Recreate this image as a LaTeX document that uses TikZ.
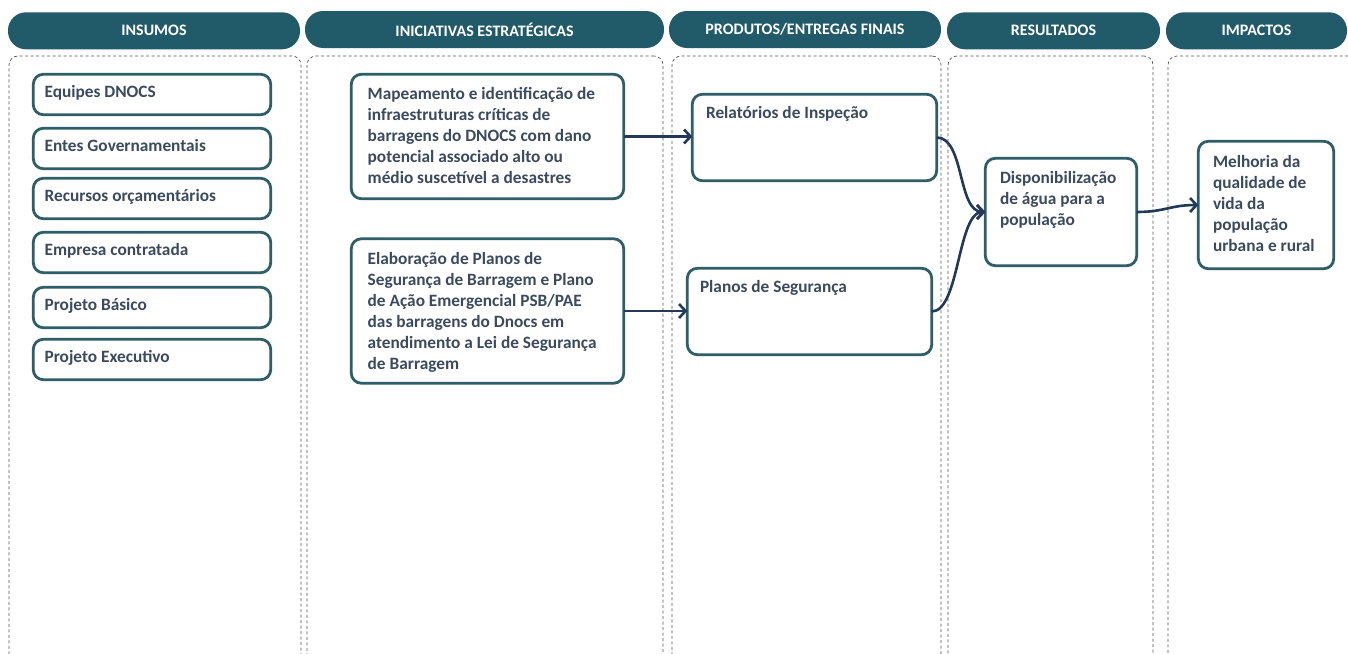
\documentclass[tikz,border=0pt]{standalone}
\usepackage{fontspec}
\setmainfont{Carlito}
\usetikzlibrary{arrows.meta}
\definecolor{headc}{HTML}{215A69}
\definecolor{boxc}{HTML}{2E5E68}
\definecolor{txtc}{HTML}{3B4A5E}
\definecolor{arrc}{HTML}{22395A}
\definecolor{dashc}{HTML}{555555}
\newcommand{\boxtxt}[3]{\parbox[t][#1][t]{#2}{\raggedright\strut #3}}
\tikzset{
  hdr/.style={fill=headc, rounded corners=18pt, text=white, font=\fontsize{16}{19}\selectfont\bfseries, inner sep=0pt, outer sep=0pt, minimum height=37pt},
  col/.style={draw=dashc, dash pattern=on 3pt off 2.5pt, line width=0.7pt, rounded corners=9pt, anchor=north west, inner sep=0pt, outer sep=0pt, minimum height=640pt},
  box/.style={draw=boxc, line width=2.8pt, rounded corners=10pt, fill=white, anchor=north west, outer sep=0pt, text=txtc, font=\fontsize{17.3}{21}\selectfont\bfseries},
  arr/.style={draw=arrc, line width=2.6pt, -{Straight Barb[length=6.5pt,width=14pt]}},
}
\begin{document}
\begin{tikzpicture}[x=1pt,y=-1pt]
\useasboundingbox (0,0) rectangle (1348,653);
\clip (0,0) rectangle (1348,653);
\fill[white] (0,0) rectangle (1348,653);

% headers
\node[hdr, minimum width=292pt] (h1) at (154,30.8) {INSUMOS};
\node[hdr, minimum width=359pt] (h2) at (484.5,29.5) {INICIATIVAS ESTRATÉGICAS};
\node[hdr, minimum width=272pt] (h3) at (805,29.5) {PRODUTOS/ENTREGAS FINAIS};
\node[hdr, minimum width=213pt] (h4) at (1053.5,30.8) {RESULTADOS};
\node[hdr, minimum width=181pt] (h5) at (1256.5,30.8) {IMPACTOS};

% dashed columns
\node[col, minimum width=292pt] (c1) at (9,56) {};
\node[col, minimum width=356pt] (c2) at (307,56) {};
\node[col, minimum width=269pt] (c3) at (672,56) {};
\node[col, minimum width=205pt] (c4) at (948,56) {};
\node[col, minimum width=200pt] (c5) at (1168,56) {};

% insumos
\node[box, inner xsep=11.3pt, inner ysep=8pt] (i1) at (33.3,74.3) {\boxtxt{24.4pt}{214.8pt}{Equipes DNOCS}};
\node[box, inner xsep=11.3pt, inner ysep=8pt] (i2) at (33.3,128.3) {\boxtxt{24.4pt}{214.8pt}{Entes Governamentais}};
\node[box, inner xsep=11.3pt, inner ysep=8pt] (i3) at (33.3,178.3) {\boxtxt{24.4pt}{214.8pt}{Recursos orçamentários}};
\node[box, inner xsep=11.3pt, inner ysep=8pt] (i4) at (33.3,232.3) {\boxtxt{24.4pt}{214.8pt}{Empresa contratada}};
\node[box, inner xsep=11.3pt, inner ysep=8pt] (i5) at (33.3,287.3) {\boxtxt{24.4pt}{214.8pt}{Projeto Básico}};
\node[box, inner xsep=11.3pt, inner ysep=8pt] (i6) at (33.3,339.3) {\boxtxt{24.4pt}{214.8pt}{Projeto Executivo}};

% iniciativas
\node[box, inner xsep=16.4pt, inner ysep=10pt] (map) at (351.3,74.3) {\boxtxt{104.4pt}{239.6pt}{Mapeamento e identificação de\\ infraestruturas críticas de\\ barragens do DNOCS com dano\\ potencial associado alto ou\\ médio suscetível a desastres}};
\node[box, inner xsep=16.4pt, inner ysep=11pt] (ela) at (351.3,238.8) {\boxtxt{122.4pt}{239.6pt}{Elaboração de Planos de\\ Segurança de Barragem e Plano\\ de Ação Emergencial PSB/PAE\\ das barragens do Dnocs em\\ atendimento a Lei de Segurança\\ de Barragem}};

% produtos
\node[box, inner xsep=13.7pt, inner ysep=9pt] (rel) at (692.3,94.3) {\boxtxt{68.4pt}{217pt}{Relatórios de Inspeção}};
\node[box, inner xsep=12.7pt, inner ysep=9pt] (pla) at (687.3,268.3) {\boxtxt{68.4pt}{219pt}{Planos de Segurança}};

% resultados
\node[box, inner xsep=14.7pt, inner ysep=10pt] (dis) at (985.3,158.3) {\boxtxt{87.4pt}{122pt}{Disponibilização\\ de água para a\\ população}};

% impactos
\node[box, inner xsep=14.7pt, inner ysep=11pt] (mel) at (1198.3,141.3) {\boxtxt{105.4pt}{106pt}{Melhoria da\\ qualidade de\\ vida da\\ população\\ urbana e rural}};

% connectors
\draw[arr] (map.east) -- (map.east -| rel.west);
\draw[arr] (ela.east) -- (ela.east -| pla.west);
\draw[arr] (rel.east) .. controls +(28,0) and +(-28,0) .. (dis.west);
\draw[arr] (pla.east) .. controls +(28,0) and +(-28,0) .. (dis.west);
\draw[arr] (dis.east) .. controls +(28,0) and +(-28,0) .. (mel.west);
\end{tikzpicture}
\end{document}
